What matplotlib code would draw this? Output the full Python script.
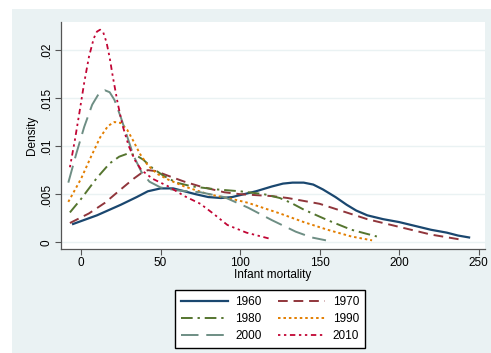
import matplotlib.pyplot as plt
from matplotlib.patches import Rectangle

plt.rcParams['font.family'] = ['Liberation Sans', 'DejaVu Sans']

# kernel density curves (infant mortality, density)
x1960 = [-5, 10, 25, 35, 42, 50, 58, 65, 72, 80, 88, 95, 100, 110, 120, 127, 133, 140, 146, 152, 160, 167,
         173, 180, 190, 200, 210, 220, 230, 237, 244]
y1960 = [0.0019, 0.0028, 0.0039, 0.0047, 0.0053, 0.0056, 0.0056, 0.0053, 0.0050, 0.0047, 0.0046, 0.0047,
         0.0049, 0.0053, 0.0058, 0.0061, 0.0062, 0.0062, 0.0060, 0.0055, 0.0047, 0.0039,
         0.0033, 0.0028, 0.0024, 0.0021, 0.0017, 0.0013, 0.0010, 0.0007, 0.0005]

x1970 = [-7, 5, 15, 25, 33, 38, 42, 47, 55, 65, 75, 90, 100, 110, 120, 130, 140, 150, 165, 180, 200, 220, 238]
y1970 = [0.0020, 0.0030, 0.0041, 0.0055, 0.0066, 0.0072, 0.0075, 0.0074, 0.0069, 0.0063, 0.0058, 0.0052,
         0.0050, 0.0049, 0.0048, 0.0046, 0.0043, 0.0040, 0.0032, 0.0024, 0.0016, 0.0008, 0.0003]

x1980 = [-7, 0, 10, 18, 24, 29, 34, 39, 45, 52, 60, 70, 85, 100, 115, 125, 132, 140, 155, 170, 186]
y1980 = [0.0031, 0.0045, 0.0067, 0.0082, 0.0089, 0.0092, 0.0091, 0.0086, 0.0077, 0.0069, 0.0062, 0.0058,
         0.0055, 0.0053, 0.0050, 0.0046, 0.0041, 0.0034, 0.0023, 0.0013, 0.0006]

x1990 = [-8, 0, 6, 12, 17, 21, 25, 29, 33, 37, 42, 48, 55, 65, 80, 95, 105, 125, 140, 155, 170, 183]
y1990 = [0.0042, 0.0066, 0.0088, 0.0109, 0.0121, 0.0125, 0.0124, 0.0117, 0.0105, 0.0092, 0.0080, 0.0071,
         0.0065, 0.0058, 0.0050, 0.0045, 0.0041, 0.0030, 0.0021, 0.0013, 0.0006, 0.0002]

x2000 = [-8, -3, 2, 7, 11, 15, 18, 21, 25, 29, 33, 38, 43, 50, 60, 75, 90, 105, 120, 135, 145, 154]
y2000 = [0.0062, 0.0092, 0.0120, 0.0143, 0.0154, 0.0158, 0.0156, 0.0148, 0.0130, 0.0110, 0.0090, 0.0073,
         0.0063, 0.0057, 0.0054, 0.0052, 0.0047, 0.0036, 0.0023, 0.0011, 0.0005, 0.0002]

x2010 = [-7, -4, -1, 2, 5, 8, 10, 12, 14, 16, 18, 20, 23, 26, 30, 34, 38, 45, 55, 65, 75, 83, 92, 104, 118]
y2010 = [0.0078, 0.0105, 0.0135, 0.0166, 0.0193, 0.0212, 0.0219, 0.0221, 0.0218, 0.0208, 0.0192, 0.0172,
         0.0145, 0.0122, 0.0100, 0.0085, 0.0075, 0.0066, 0.0058, 0.0048, 0.0040, 0.0030, 0.0018, 0.0010, 0.0004]

yticks = [0, 0.005, 0.01, 0.015, 0.02]
ytick_labels = ['0', '.005', '.01', '.015', '.02']
xticks = [0, 50, 100, 150, 200, 250]

fig = plt.figure(figsize=(4.91, 3.53), dpi=100)
fig.patch.set_facecolor('white')
fig.patches.append(Rectangle((12 / 491, 0), 1, (353 - 9) / 353, transform=fig.transFigure,
                             facecolor='#eaf2f3', edgecolor='none', zorder=-10))

ax = fig.add_axes([61 / 491, 1 - 249 / 353, 424 / 491, 227 / 353])
ax.set_facecolor('white')

l60, = ax.plot(x1960, y1960, color='#1a476f', lw=1.6, label='1960')
l70, = ax.plot(x1970, y1970, color='#90353b', lw=1.4, dashes=(5, 3), label='1970')
l80, = ax.plot(x1980, y1980, color='#55752f', lw=1.4, dashes=(6, 2.5, 1.2, 2.5), label='1980')
l90, = ax.plot(x1990, y1990, color='#e37e00', lw=1.4, dashes=(1.3, 1.5), label='1990')
l00, = ax.plot(x2000, y2000, color='#6e8e84', lw=1.4, dashes=(9, 4), label='2000')
l10, = ax.plot(x2010, y2010, color='#c10534', lw=1.3, dashes=(1.3, 2, 1.3, 2, 3, 2), label='2010')

ax.set_xlim(-12.6, 254)
ax.set_ylim(-0.0007, 0.0229)
ax.set_xticks(xticks)
ax.set_yticks(yticks)
ax.set_yticklabels(ytick_labels, rotation=90, va='center')
ax.grid(axis='y', color='#eaf2f3', lw=1.0)
ax.set_axisbelow(True)
for s in ['top', 'right']:
    ax.spines[s].set_visible(False)
for s in ['left', 'bottom']:
    ax.spines[s].set_color('#555555')
    ax.spines[s].set_linewidth(0.9)
ax.tick_params(colors='#555555', labelcolor='black', labelsize=8.5, length=4, width=0.8, pad=2)
ax.set_xlabel('Infant mortality', fontsize=8.5, labelpad=0)
ax.set_ylabel('Density', fontsize=8.5, labelpad=2)

# row-wise order: 1960 1970 / 1980 1990 / 2000 2010
handles = [l60, l80, l00, l70, l90, l10]
fig.legend(handles, [h.get_label() for h in handles], loc='center',
           bbox_to_anchor=(270 / 491, 1 - 319 / 353), ncol=2, fontsize=8.5,
           frameon=True, fancybox=False, edgecolor='black', framealpha=1,
           handlelength=4.0, columnspacing=1.4, handletextpad=0.6, labelspacing=0.45,
           borderpad=0.5)

fig.savefig('out.png', dpi=100)
